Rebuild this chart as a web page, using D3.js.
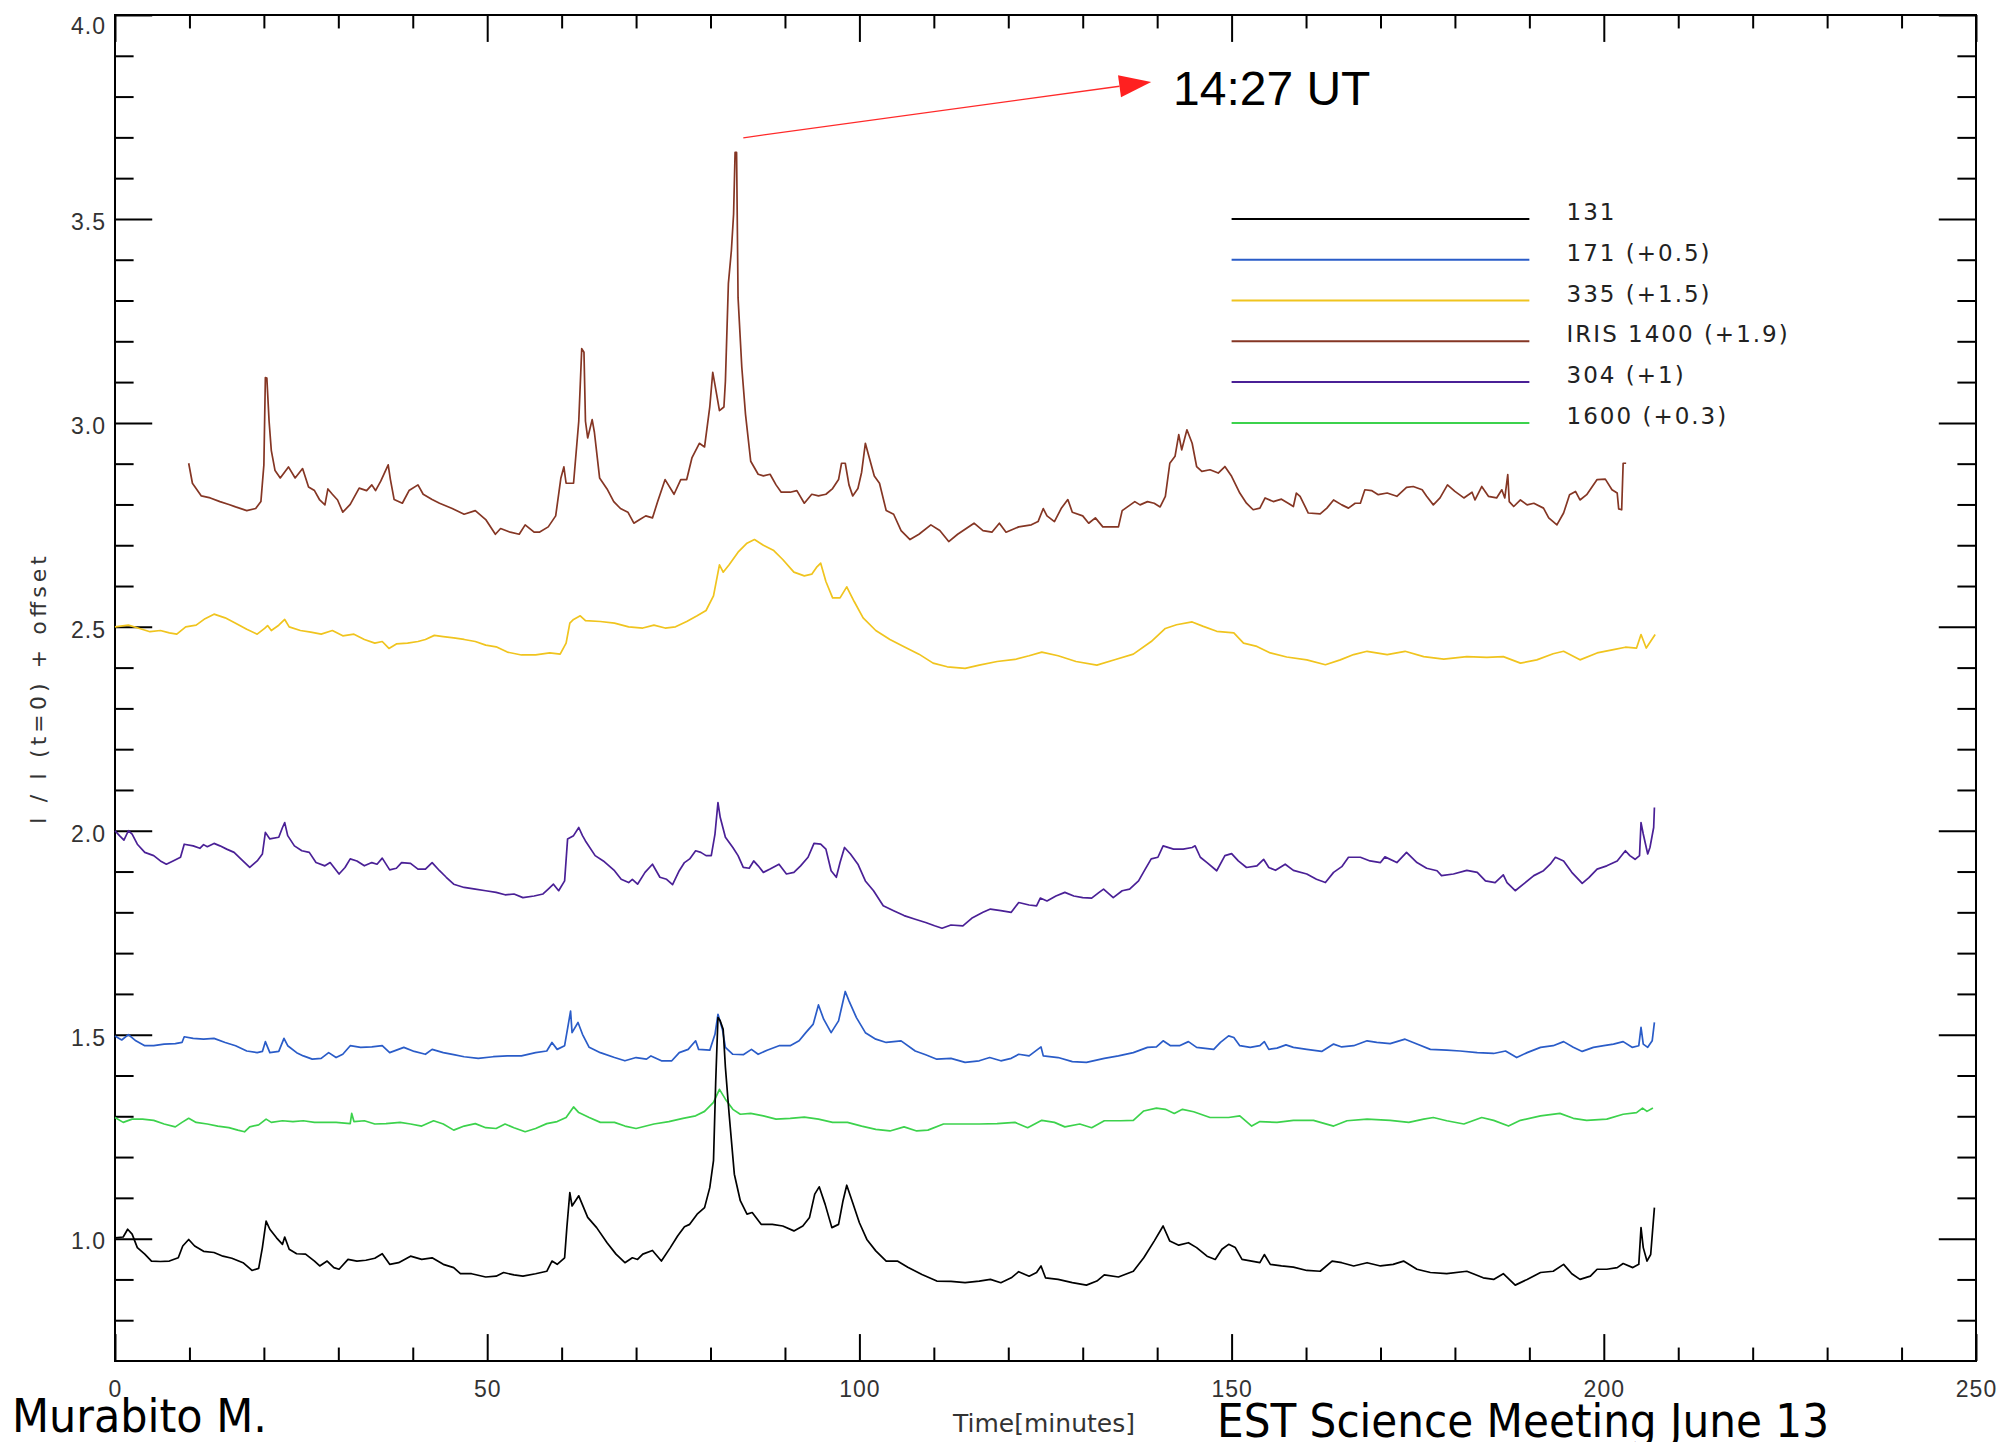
<!DOCTYPE html>
<html>
<head>
<meta charset="utf-8">
<script src="https://cdn.jsdelivr.net/npm/d3@7"></script>
<style>
body { margin: 0; background: #fff; }
svg { display: block; }
</style>
</head>
<body>
<svg></svg>
<script>
var width = 2003,
    height = 1442;

// [time in minutes, I / I(t=0)]
var aia131 = [[0,1.002],[1.1,1.004],[1.7,1.023],[2.3,1.011],[3,0.978],[4,0.962],[4.9,0.945],[6.1,0.944],[7.3,0.945],[8.5,0.953],[9.1,0.982],[9.9,0.998],[10.7,0.982],[11.9,0.969],[13.3,0.966],[14.5,0.957],[15.7,0.952],[17.2,0.941],[18.4,0.922],[19.3,0.927],[19.8,0.978],[20.3,1.043],[20.8,1.023],[21.7,1.002],[22.5,0.986],[22.8,1.004],[23.4,0.974],[24.4,0.963],[25.6,0.962],[26.8,0.945],[27.5,0.933],[28.5,0.945],[29.4,0.929],[30.1,0.925],[31.3,0.949],[32.5,0.945],[33.7,0.947],[34.9,0.952],[35.9,0.963],[36.9,0.937],[38.1,0.941],[39.7,0.957],[41.2,0.949],[42.6,0.953],[44.1,0.937],[45.5,0.929],[46.4,0.914],[47.9,0.914],[49.8,0.906],[51.2,0.908],[52.2,0.917],[53.6,0.911],[54.8,0.908],[56.5,0.914],[58,0.92],[58.7,0.945],[59.4,0.937],[60.4,0.953],[60.7,1.027],[61.1,1.113],[61.4,1.08],[62.3,1.105],[63.5,1.052],[64.7,1.027],[66.1,0.99],[67.3,0.962],[68.5,0.941],[69.5,0.953],[70.2,0.949],[70.9,0.962],[72.2,0.971],[73.4,0.945],[74.6,0.978],[75.6,1.007],[76.5,1.029],[77.2,1.035],[78.2,1.06],[79.2,1.076],[79.9,1.125],[80.4,1.191],[80.7,1.387],[81,1.542],[81.3,1.534],[81.7,1.513],[82,1.42],[82.5,1.305],[83.2,1.158],[84,1.093],[84.9,1.06],[85.6,1.064],[86.8,1.035],[88.3,1.035],[89.7,1.031],[91.2,1.019],[92.4,1.031],[93.3,1.052],[94,1.109],[94.6,1.127],[95.4,1.084],[96.3,1.027],[97.2,1.035],[97.8,1.093],[98.3,1.131],[99.1,1.088],[100,1.039],[101,0.998],[102.2,0.97],[103.6,0.945],[105.1,0.945],[106.5,0.93],[108.4,0.912],[110.4,0.896],[112.3,0.895],[114.2,0.892],[116.1,0.896],[117.6,0.9],[119,0.892],[120.4,0.904],[121.4,0.919],[122.8,0.908],[123.8,0.917],[124.4,0.933],[125,0.904],[126.7,0.9],[128.6,0.892],[130.5,0.886],[131.9,0.896],[132.9,0.911],[134.8,0.906],[136.8,0.92],[138.2,0.953],[139.6,0.994],[140.8,1.031],[141.7,0.994],[142.9,0.984],[144.2,0.99],[145.3,0.978],[146.7,0.957],[147.8,0.949],[148.7,0.974],[149.6,0.986],[150.5,0.978],[151.4,0.949],[152.7,0.945],[153.8,0.941],[154.4,0.961],[155.2,0.937],[156.7,0.933],[158.3,0.93],[160.1,0.922],[161.9,0.92],[163.5,0.945],[164.8,0.941],[166.4,0.933],[168.2,0.941],[170,0.933],[171.7,0.937],[173.1,0.945],[174.9,0.925],[176.7,0.917],[178.9,0.914],[181.6,0.92],[183.8,0.904],[185.2,0.9],[186.5,0.914],[188.1,0.886],[189.7,0.9],[191.5,0.917],[193.2,0.92],[194.6,0.937],[195.7,0.914],[196.8,0.9],[198.2,0.908],[199.1,0.925],[200.4,0.925],[201.8,0.929],[202.6,0.939],[203.9,0.929],[204.7,0.937],[205,1.027],[205.3,0.978],[205.8,0.945],[206.3,0.961],[206.8,1.076]];

var aia171 = [[0,0.997],[0.9,0.987],[1.8,1],[2.8,0.985],[4,0.973],[5.2,0.973],[6.6,0.977],[8.1,0.978],[9,0.981],[9.3,0.995],[10.5,0.991],[11.9,0.989],[13.3,0.991],[14.8,0.981],[16.2,0.973],[17.7,0.96],[19.1,0.956],[19.8,0.959],[20.2,0.983],[20.8,0.956],[22,0.959],[22.7,0.991],[23.2,0.973],[24.4,0.956],[25.3,0.948],[26.5,0.94],[27.7,0.942],[28.7,0.956],[29.7,0.944],[30.6,0.952],[31.6,0.973],[33,0.969],[34.5,0.97],[35.9,0.973],[36.9,0.956],[38.8,0.969],[40.2,0.959],[41.7,0.952],[42.6,0.964],[44.1,0.956],[45.5,0.951],[46.9,0.946],[48.8,0.942],[50.8,0.946],[52.7,0.948],[54.6,0.948],[56.5,0.956],[58,0.96],[58.7,0.981],[59.4,0.964],[60.4,0.973],[60.9,1.026],[61.2,1.058],[61.4,1.005],[62.2,1.03],[62.8,1.001],[63.7,0.969],[65.2,0.956],[67.1,0.944],[68.5,0.936],[70,0.944],[71.4,0.94],[72,0.948],[73.4,0.936],[74.8,0.936],[75.8,0.956],[77,0.964],[78,0.985],[78.4,0.964],[79.9,0.962],[80.6,1.001],[81,1.05],[81.6,1.013],[82,0.969],[83,0.952],[84.4,0.951],[85.5,0.964],[86.4,0.952],[87.6,0.962],[89.2,0.973],[90.7,0.973],[91.9,0.985],[92.8,1.005],[93.8,1.026],[94.5,1.073],[95.2,1.038],[96.2,1.005],[97.2,1.034],[98.1,1.106],[98.6,1.083],[99.6,1.042],[100.8,1.005],[102.2,0.989],[103.6,0.981],[105.6,0.985],[107.5,0.96],[108.9,0.951],[110.4,0.94],[112.3,0.942],[114.2,0.932],[116.1,0.936],[117.5,0.944],[119,0.936],[120.4,0.942],[121.4,0.952],[122.8,0.948],[124.4,0.97],[124.7,0.948],[126.7,0.944],[128.6,0.934],[130.5,0.932],[132.9,0.942],[134.8,0.948],[136.8,0.956],[138.7,0.969],[139.9,0.97],[140.8,0.985],[141.8,0.973],[143,0.973],[144.2,0.983],[145.3,0.969],[147.6,0.964],[148.5,0.981],[149.6,0.997],[150.3,0.993],[151.1,0.973],[152.5,0.969],[153.8,0.973],[154.4,0.983],[155,0.964],[156.1,0.967],[157.3,0.975],[158.3,0.969],[160.1,0.964],[162.1,0.959],[163.7,0.977],[164.8,0.97],[166.4,0.973],[168.2,0.985],[169.5,0.981],[171.3,0.978],[173.3,0.989],[174.9,0.977],[176.7,0.964],[178.9,0.962],[180.7,0.96],[183,0.956],[185.2,0.954],[186.8,0.96],[188.3,0.944],[189.7,0.956],[191.5,0.969],[193.2,0.973],[194.6,0.983],[195.9,0.969],[197.1,0.959],[198.6,0.969],[200,0.973],[201.3,0.977],[202.6,0.983],[203.8,0.969],[204.7,0.973],[205,1.018],[205.3,0.977],[205.9,0.969],[206.5,0.985],[206.8,1.03]];

var aia335 = [[0,1],[1.8,1.004],[3.3,0.996],[4.7,0.988],[6.1,0.991],[7.3,0.985],[8.3,0.982],[9.5,1],[10.9,1.004],[12.1,1.02],[13.3,1.031],[14.8,1.022],[16.2,1.009],[17.7,0.994],[19.1,0.982],[20.1,0.996],[20.5,1.003],[21,0.991],[22,1.004],[22.8,1.018],[23.4,1],[24.9,0.991],[26.3,0.987],[27.7,0.982],[29.2,0.991],[30.6,0.978],[32.1,0.982],[33.5,0.969],[34.9,0.96],[35.9,0.964],[36.8,0.947],[37.8,0.958],[39.3,0.96],[40.7,0.964],[41.7,0.969],[42.9,0.979],[44.1,0.976],[45.5,0.973],[46.9,0.969],[48.4,0.964],[49.8,0.955],[51.2,0.951],[52.7,0.938],[54.6,0.931],[56.5,0.931],[58.4,0.936],[59.8,0.933],[60.6,0.96],[61.1,1.009],[61.6,1.018],[62.5,1.027],[63.2,1.015],[65.2,1.013],[67.1,1.009],[69,1],[70.9,0.997],[72.4,1.004],[73.9,0.997],[75.3,1],[76.8,1.013],[78.2,1.027],[79.4,1.04],[80.4,1.076],[81.2,1.152],[81.7,1.134],[82.5,1.152],[83.7,1.183],[84.9,1.205],[85.9,1.214],[87.1,1.2],[88.5,1.187],[89.7,1.165],[91.2,1.134],[92.6,1.125],[93.6,1.129],[94.3,1.147],[94.8,1.156],[95.5,1.111],[96.4,1.071],[97.4,1.071],[98.3,1.098],[99.3,1.062],[100.5,1.022],[102.2,0.991],[104.1,0.969],[106,0.951],[108,0.933],[109.9,0.911],[111.8,0.902],[114.2,0.898],[116.1,0.906],[118.5,0.915],[120.9,0.92],[122.8,0.929],[124.5,0.938],[126.7,0.929],[129.1,0.915],[131.9,0.906],[134.4,0.92],[136.8,0.933],[139.2,0.964],[141.1,0.996],[142.6,1.005],[144.7,1.012],[146.2,1.001],[148,0.989],[150.3,0.985],[151.6,0.96],[153.4,0.952],[155.2,0.936],[157.4,0.926],[160.1,0.919],[162.6,0.907],[164.6,0.919],[166.4,0.932],[168.2,0.94],[170.9,0.932],[173.3,0.94],[175.8,0.927],[178.5,0.921],[181.6,0.927],[184.3,0.925],[186.5,0.927],[188.8,0.911],[191,0.919],[193.2,0.934],[194.6,0.94],[196.8,0.919],[199.1,0.936],[201.3,0.944],[202.9,0.95],[204.4,0.948],[205,0.981],[205.7,0.948],[206.9,0.981]];

var iris1400 = [[9.9,1.001],[10.4,0.952],[11.6,0.921],[12.8,0.916],[14.1,0.907],[15.3,0.9],[16.2,0.894],[17.7,0.885],[18.9,0.89],[19.6,0.907],[20,0.997],[20.2,1.211],[20.4,1.21],[20.7,1.104],[21,1.032],[21.5,0.983],[22.2,0.965],[23.3,0.992],[24.2,0.965],[25.2,0.988],[26,0.943],[26.8,0.934],[27.5,0.911],[28.2,0.899],[28.6,0.938],[29.2,0.925],[29.9,0.911],[30.6,0.881],[31.6,0.9],[32.8,0.94],[33.8,0.934],[34.5,0.948],[35,0.934],[35.7,0.957],[36.7,0.997],[37,0.961],[37.5,0.912],[38.6,0.903],[39.5,0.934],[40.7,0.948],[41.4,0.925],[42.6,0.912],[43.6,0.903],[45.3,0.89],[46.9,0.876],[48.4,0.885],[49.8,0.863],[51.1,0.827],[51.8,0.841],[53.1,0.832],[54.3,0.827],[55.1,0.85],[56.3,0.832],[57,0.832],[58.2,0.845],[59.2,0.872],[59.9,0.965],[60.3,0.992],[60.6,0.952],[61.6,0.952],[62.3,1.104],[62.7,1.282],[63,1.273],[63.2,1.104],[63.5,1.063],[64.1,1.108],[64.4,1.077],[65.1,0.965],[66.1,0.938],[67,0.907],[67.9,0.89],[68.9,0.881],[69.7,0.854],[70.5,0.863],[71.3,0.872],[72.2,0.867],[72.9,0.907],[73.9,0.961],[75.1,0.925],[76,0.961],[76.8,0.961],[77.5,1.014],[78.5,1.05],[79.2,1.041],[79.9,1.139],[80.3,1.224],[80.6,1.193],[81.2,1.13],[81.8,1.139],[82,1.202],[82.4,1.442],[82.8,1.522],[83.1,1.612],[83.3,1.763],[83.5,1.763],[83.7,1.407],[84.2,1.237],[84.7,1.121],[85.4,1.006],[86.4,0.974],[87.1,0.97],[88,0.974],[88.8,0.948],[89.5,0.93],[90.7,0.93],[91.6,0.934],[92.6,0.903],[93.6,0.925],[94.5,0.921],[95.5,0.925],[96.4,0.939],[97.2,0.961],[97.6,1.001],[98.1,1.001],[98.6,0.948],[99.1,0.921],[99.8,0.939],[100.3,0.979],[100.8,1.05],[101.2,1.023],[102,0.97],[102.7,0.952],[103.6,0.885],[104.6,0.876],[105.6,0.836],[106.8,0.814],[108,0.827],[109.6,0.85],[110.8,0.836],[112,0.809],[113.2,0.827],[115.4,0.854],[116.6,0.836],[117.8,0.832],[118.8,0.854],[119.7,0.832],[121.4,0.845],[123.1,0.85],[124,0.858],[124.7,0.89],[125.2,0.872],[126.2,0.858],[127.1,0.89],[128,0.912],[128.6,0.881],[130,0.872],[130.8,0.854],[131.7,0.867],[132.7,0.845],[134.8,0.845],[135.3,0.885],[137,0.907],[137.7,0.899],[138.7,0.907],[139.6,0.903],[140.4,0.894],[141.1,0.92],[141.7,1.001],[142.4,1.018],[142.9,1.071],[143.3,1.034],[144,1.083],[144.7,1.05],[145.3,0.993],[146,0.981],[147.1,0.985],[148.2,0.977],[149.1,0.993],[150,0.969],[151.1,0.928],[152,0.903],[152.9,0.887],[153.8,0.891],[154.5,0.916],[155.6,0.907],[156.7,0.913],[157.6,0.903],[158.3,0.895],[158.7,0.928],[159.2,0.92],[160.3,0.879],[161.9,0.877],[162.8,0.891],[163.7,0.911],[164.8,0.899],[165.7,0.891],[166.6,0.903],[167.3,0.903],[167.9,0.936],[168.8,0.934],[169.7,0.924],[170.9,0.928],[172.2,0.92],[173.5,0.942],[174.4,0.944],[175.6,0.936],[176.2,0.92],[177.1,0.899],[178,0.916],[179,0.948],[180,0.932],[181.2,0.916],[182.3,0.93],[182.7,0.911],[183.6,0.944],[184.5,0.92],[185.6,0.916],[186.3,0.936],[186.7,0.916],[187.1,0.973],[187.3,0.907],[187.9,0.895],[188.8,0.911],[189.7,0.899],[190.6,0.903],[191.9,0.891],[192.6,0.867],[193.7,0.85],[194.6,0.879],[195.4,0.924],[196.2,0.932],[196.8,0.911],[197.7,0.924],[199.1,0.961],[200.2,0.962],[201.1,0.936],[201.8,0.928],[202,0.889],[202.4,0.887],[202.6,1.001],[203,1.001]];

var aia304 = [[0,1],[0.6,0.988],[1.2,0.977],[1.8,1],[2.3,0.992],[3,0.967],[4,0.947],[5.2,0.939],[6.1,0.926],[6.9,0.918],[7.8,0.926],[8.8,0.935],[9.3,0.967],[10.5,0.963],[11.4,0.957],[11.9,0.966],[12.4,0.961],[13.3,0.969],[14.1,0.963],[15,0.955],[16,0.947],[16.9,0.931],[18.1,0.91],[19.1,0.926],[19.8,0.943],[20.2,0.996],[20.8,0.98],[22,0.984],[22.5,1.008],[22.8,1.02],[23.2,0.988],[24.1,0.963],[25.1,0.951],[26.1,0.947],[27,0.922],[28.2,0.914],[28.9,0.922],[30.1,0.894],[30.9,0.91],[31.6,0.931],[32.5,0.926],[33.5,0.914],[34.5,0.922],[35.2,0.918],[35.9,0.933],[36.9,0.904],[37.8,0.908],[38.5,0.922],[39.7,0.92],[40.7,0.906],[41.7,0.906],[42.6,0.922],[43.6,0.902],[44.5,0.886],[45.5,0.869],[46.9,0.861],[48.4,0.857],[49.8,0.853],[51.2,0.849],[52.4,0.843],[53.6,0.845],[54.8,0.836],[56.3,0.84],[57.5,0.845],[58.2,0.857],[58.9,0.869],[59.6,0.853],[60.4,0.877],[60.8,0.98],[61.6,0.988],[62.3,1.008],[62.8,0.988],[63.2,0.975],[64.5,0.939],[65.6,0.926],[67.1,0.902],[68,0.881],[69,0.873],[69.5,0.881],[70.2,0.869],[71.2,0.898],[72.2,0.918],[73.2,0.886],[74.1,0.881],[74.9,0.868],[75.8,0.902],[76.5,0.922],[77.2,0.931],[78,0.951],[78.7,0.947],[79.4,0.939],[80.1,0.939],[80.6,0.992],[81,1.069],[81.3,1.033],[82,0.984],[83,0.959],[83.7,0.939],[84.4,0.91],[85.2,0.908],[85.8,0.926],[86.4,0.914],[87.1,0.898],[88,0.906],[89.2,0.918],[90.2,0.894],[91.2,0.898],[92.1,0.914],[93.1,0.935],[93.9,0.969],[94.8,0.967],[95.5,0.955],[96.2,0.902],[96.9,0.886],[97.4,0.922],[98,0.959],[98.8,0.943],[99.8,0.918],[100.8,0.877],[101.9,0.853],[103.2,0.816],[104.6,0.804],[106,0.792],[107.5,0.783],[108.9,0.775],[110.1,0.767],[111.1,0.761],[112.3,0.769],[113.9,0.767],[115.2,0.787],[116.6,0.8],[117.6,0.808],[119,0.804],[120.4,0.8],[121.4,0.824],[122.8,0.818],[123.8,0.816],[124.3,0.835],[125.2,0.828],[126.4,0.84],[127.6,0.849],[128.8,0.84],[130,0.836],[131.2,0.835],[132.2,0.849],[132.8,0.857],[134.1,0.836],[135.3,0.853],[136.3,0.857],[137.5,0.877],[138.4,0.906],[139.2,0.931],[140.1,0.935],[140.8,0.963],[142.2,0.955],[143.5,0.955],[144.7,0.959],[145.1,0.963],[145.8,0.935],[146.7,0.922],[148,0.902],[149.1,0.939],[150,0.944],[150.9,0.926],[152,0.91],[153.4,0.914],[154.3,0.93],[155,0.91],[155.9,0.903],[157.2,0.918],[158.3,0.903],[160.1,0.894],[161.4,0.881],[162.6,0.873],[163.7,0.898],[164.8,0.912],[165.7,0.935],[167.3,0.935],[168.6,0.926],[170,0.922],[170.6,0.936],[172.2,0.922],[173.5,0.947],[174.9,0.922],[176.2,0.908],[177.6,0.902],[178.2,0.89],[179.8,0.894],[181.6,0.903],[183,0.898],[184.1,0.877],[185.4,0.873],[186.5,0.892],[187,0.873],[188.1,0.853],[189.2,0.869],[190.6,0.89],[191.9,0.902],[192.8,0.918],[193.5,0.935],[194.6,0.926],[195.7,0.898],[197.1,0.871],[198,0.885],[199.1,0.906],[200.4,0.914],[201.8,0.926],[202.9,0.951],[203.5,0.939],[204.2,0.93],[204.8,0.939],[205,1.02],[205.3,0.992],[205.9,0.943],[206.2,0.959],[206.7,1.008],[206.8,1.057]];

var aia1600 = [[0,0.997],[1.1,0.985],[2.3,0.993],[3.7,0.993],[5.2,0.99],[6.6,0.981],[8.1,0.974],[9,0.985],[9.9,0.995],[10.9,0.985],[12.4,0.981],[13.8,0.976],[15.3,0.972],[16.5,0.966],[17.4,0.962],[18.1,0.974],[19.3,0.979],[20.3,0.993],[21,0.985],[22.5,0.989],[23.9,0.987],[25.3,0.989],[26.8,0.985],[28.2,0.985],[29.7,0.985],[31.6,0.982],[31.8,1.007],[32.1,0.987],[33.5,0.989],[34.9,0.981],[36.4,0.982],[38.3,0.985],[39.7,0.981],[41.2,0.976],[42.8,0.989],[44.1,0.981],[45.5,0.966],[46.9,0.976],[48.4,0.982],[49.8,0.972],[51.2,0.97],[52.4,0.981],[53.6,0.972],[55.1,0.962],[56.5,0.97],[58,0.982],[59.4,0.987],[60.6,0.997],[61.6,1.023],[62.3,1.009],[63.7,0.997],[65.2,0.985],[67.1,0.985],[68.5,0.976],[70,0.97],[72.4,0.981],[74.4,0.987],[76.3,0.995],[78,1.001],[79.2,1.012],[80.4,1.034],[81.2,1.066],[82,1.042],[83,1.017],[84,1.005],[85.4,1.007],[87.1,1.001],[88.8,0.993],[90.7,0.995],[92.6,0.998],[94.5,0.993],[96.4,0.985],[98.4,0.985],[100.3,0.976],[102.2,0.968],[104.1,0.964],[106,0.974],[107.7,0.964],[109.2,0.966],[111.3,0.981],[113.7,0.981],[116.1,0.981],[118.5,0.982],[120.9,0.985],[122.6,0.972],[124.5,0.99],[126.2,0.985],[127.6,0.974],[129.6,0.981],[131.2,0.972],[132.9,0.989],[135.1,0.989],[136.8,0.99],[138.2,1.013],[139.9,1.02],[141.1,1.017],[142.3,1.007],[143.4,1.017],[144.9,1.011],[147.1,0.997],[149.6,0.997],[151.1,1.001],[152.7,0.976],[153.8,0.987],[156.1,0.985],[158.3,0.99],[161,0.99],[163.7,0.976],[165.5,0.989],[168.2,0.993],[171.3,0.99],[173.8,0.985],[175.8,0.993],[177.1,0.997],[178.9,0.989],[181.2,0.981],[183.6,0.997],[185.2,0.99],[187.2,0.976],[188.8,0.99],[191.5,1.001],[194.1,1.007],[195.9,0.995],[197.7,0.99],[200.4,0.993],[202.6,1.005],[204.4,1.009],[205.2,1.02],[205.8,1.012],[206.6,1.02]];

var seriesNames = ["131", "171", "335", "IRIS 1400", "304", "1600"];
var seriesData = [aia131, aia171, aia335, iris1400, aia304, aia1600];
var offsets = [0, 0.5, 1.5, 1.9, 1, 0.3];
var legendLabels = ["131", "171 (+0.5)", "335 (+1.5)", "IRIS 1400 (+1.9)", "304 (+1)", "1600 (+0.3)"];
var colors = ["#000000", "#2a5cc8", "#f0c41e", "#853624", "#4a2096", "#3cd24c"];

var xMajor = [0, 50, 100, 150, 200, 250];
var xTickLabels = ["0", "50", "100", "150", "200", "250"];
var yMajor = [1.0, 1.5, 2.0, 2.5, 3.0, 3.5, 4.0];
var yTickLabels = ["1.0", "1.5", "2.0", "2.5", "3.0", "3.5", "4.0"];

var x = d3.scaleLinear().domain([0, 250]).range([115, 1976]);
var y = d3.scaleLinear().domain([0.7, 4.0]).range([1361, 15]);

var xMinor = d3.range(10, 250, 10).filter(function(d) { return d % 50 != 0; });
var yMinor = d3.range(8, 40, 1).filter(function(d) { return d % 5 != 0; })
        .map(function(d) { return d / 10; });

var svg = d3.select("svg")
        .attr("width", width)
        .attr("height", height)
        .style("font-family", "'DejaVu Sans', sans-serif");

svg.append("rect")
    .attr("width", width)
    .attr("height", height)
    .attr("fill", "#fff");

// ticks on all four sides, IDL style (major 2% of the plot, minor half)
var xLen = 0.02 * (y(0.7) - y(4.0)),
    yLen = 0.02 * (x(250) - x(0));

function styleAxis(g) {
    g.select(".domain").remove();
    g.selectAll(".tick line").attr("stroke", "#000").attr("stroke-width", 2);
    g.selectAll(".tick text")
        .attr("fill", "#333")
        .style("font-size", "23px")
        .style("letter-spacing", "1px");
}

svg.append("g")
    .attr("transform", "translate(0," + y(0.7) + ")")
    .call(d3.axisBottom(x).tickValues(xMajor).tickSize(-xLen).tickPadding(20)
        .tickFormat(function(d, i) { return xTickLabels[i]; }))
    .call(styleAxis);
svg.append("g")
    .attr("transform", "translate(0," + y(0.7) + ")")
    .call(d3.axisBottom(x).tickValues(xMinor).tickSize(-xLen / 2).tickFormat(""))
    .call(styleAxis);
svg.append("g")
    .attr("transform", "translate(0," + y(4.0) + ")")
    .call(d3.axisTop(x).tickValues(xMajor).tickSize(-xLen).tickFormat(""))
    .call(styleAxis);
svg.append("g")
    .attr("transform", "translate(0," + y(4.0) + ")")
    .call(d3.axisTop(x).tickValues(xMinor).tickSize(-xLen / 2).tickFormat(""))
    .call(styleAxis);

var yLeft = svg.append("g")
    .attr("transform", "translate(" + x(0) + ",0)")
    .call(d3.axisLeft(y).tickValues(yMajor).tickSize(-yLen).tickPadding(9)
        .tickFormat(function(d, i) { return yTickLabels[i]; }))
    .call(styleAxis);
yLeft.selectAll(".tick text").attr("dy", "0.45em");
yLeft.selectAll(".tick text").filter(function(d) { return d == 4.0; }).attr("dy", "0.8em");

svg.append("g")
    .attr("transform", "translate(" + x(0) + ",0)")
    .call(d3.axisLeft(y).tickValues(yMinor).tickSize(-yLen / 2).tickFormat(""))
    .call(styleAxis);
svg.append("g")
    .attr("transform", "translate(" + x(250) + ",0)")
    .call(d3.axisRight(y).tickValues(yMajor).tickSize(-yLen).tickFormat(""))
    .call(styleAxis);
svg.append("g")
    .attr("transform", "translate(" + x(250) + ",0)")
    .call(d3.axisRight(y).tickValues(yMinor).tickSize(-yLen / 2).tickFormat(""))
    .call(styleAxis);

svg.append("rect")
    .attr("x", x(0))
    .attr("y", y(4.0))
    .attr("width", x(250) - x(0))
    .attr("height", y(0.7) - y(4.0))
    .attr("fill", "none")
    .attr("stroke", "#000")
    .attr("stroke-width", 2);

// curves, drawn 131 last so it sits on top
var order = [5, 1, 4, 2, 3, 0];
order.forEach(function(k) {
    var line = d3.line()
        .x(function(d) { return x(d[0]); })
        .y(function(d) { return y(d[1] + offsets[k]); });
    svg.append("path")
        .datum(seriesData[k])
        .attr("class", "series s" + seriesNames[k].replace(" ", ""))
        .attr("fill", "none")
        .attr("stroke", colors[k])
        .attr("stroke-width", 1.7)
        .attr("stroke-linejoin", "round")
        .attr("d", line);
});

// legend, placed in data coordinates like IDL does
var legend = svg.append("g");
legendLabels.forEach(function(label, i) {
    var ly = 3.5 - i * 0.1;
    legend.append("line")
        .attr("x1", x(150)).attr("x2", x(190))
        .attr("y1", y(ly)).attr("y2", y(ly))
        .attr("stroke", colors[i])
        .attr("stroke-width", 2);
    legend.append("text")
        .attr("x", x(195))
        .attr("y", y(ly) + 1)
        .attr("fill", "#222")
        .style("font-size", "23px")
        .style("letter-spacing", "2px")
        .text(label);
});

// axis titles
svg.append("text")
    .attr("x", 953)
    .attr("y", 1432)
    .attr("fill", "#333")
    .attr("textLength", 182)
    .attr("lengthAdjust", "spacingAndGlyphs")
    .style("font-size", "24px")
    .text("Time[minutes]");

svg.append("text")
    .attr("transform", "translate(46,690) rotate(-90)")
    .attr("text-anchor", "middle")
    .attr("fill", "#333")
    .attr("textLength", 268)
    .attr("lengthAdjust", "spacing")
    .style("font-size", "22px")
    .text("I / I (t=0) + offset");

// annotation arrow to the IRIS peak time
var arrowFrom = [84.4, 3.699],
    arrowTo = [139.2, 3.836];
var ax0 = x(arrowFrom[0]), ay0 = y(arrowFrom[1]),
    ax1 = x(arrowTo[0]), ay1 = y(arrowTo[1]);
var ang = Math.atan2(ay1 - ay0, ax1 - ax0),
    headLen = 32, headW = 11;
var bx = ax1 - headLen * Math.cos(ang),
    by = ay1 - headLen * Math.sin(ang);
svg.append("line")
    .attr("x1", ax0).attr("y1", ay0)
    .attr("x2", bx).attr("y2", by)
    .attr("stroke", "#ff2a2a")
    .attr("stroke-width", 1.3);
svg.append("path")
    .attr("fill", "#ff2020")
    .attr("d", "M" + ax1 + "," + ay1 +
        "L" + (bx + headW * Math.sin(ang)) + "," + (by - headW * Math.cos(ang)) +
        "L" + (bx - headW * Math.sin(ang)) + "," + (by + headW * Math.cos(ang)) + "Z");

svg.append("text")
    .attr("x", 1173)
    .attr("y", 105)
    .attr("fill", "#000")
    .style("font-family", "'Liberation Sans', Arial, sans-serif")
    .style("font-size", "48px")
    .text("14:27 UT");

// slide footer
svg.append("text")
    .attr("x", 12)
    .attr("y", 1432)
    .attr("fill", "#000")
    .attr("textLength", 255)
    .attr("lengthAdjust", "spacingAndGlyphs")
    .style("font-family", "'DejaVu Sans Condensed', 'DejaVu Sans', sans-serif")
    .style("font-size", "46px")
    .text("Murabito M.");

svg.append("text")
    .attr("x", 1217)
    .attr("y", 1437)
    .attr("fill", "#000")
    .attr("textLength", 612)
    .attr("lengthAdjust", "spacingAndGlyphs")
    .style("font-family", "'DejaVu Sans Condensed', 'DejaVu Sans', sans-serif")
    .style("font-size", "46px")
    .text("EST Science Meeting June 13");
</script>
</body>
</html>
